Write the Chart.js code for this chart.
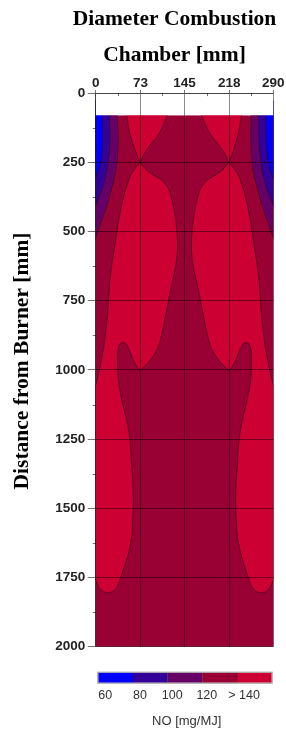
<!DOCTYPE html>
<html>
<head>
<meta charset="utf-8">
<script src="https://cdn.jsdelivr.net/npm/chart.js@4.4.0/dist/chart.umd.min.js"></script>
<style>
html,body{margin:0;padding:0;background:#fff;overflow:hidden}
#c{display:block}
</style>
</head>
<body>
<canvas id="c" width="286" height="731" style="width:286px;height:731px"></canvas>
<script>
// ---------- data ----------
const titleLines = ['Diameter Combustion', 'Chamber [mm]'];
const yTitle = 'Distance from Burner [mm]';
const legendTitle = 'NO [mg/MJ]';

const xTickValues = [0, 73, 145, 218, 290];
const yTickValues = [0, 250, 500, 750, 1000, 1250, 1500, 1750, 2000];
const xMinorTicks = [36.5, 109, 181.5, 254];
const yMinorTicks = [125, 375, 625, 875, 1125, 1375, 1625, 1875];

const levelLabels = ['60', '80', '100', '120', '> 140'];
const levelColors = ['#0000ff', '#330099', '#660066', '#990033', '#cc0033'];

// region with no measurement (above 80 mm)
const noDataBand = [[-10, -10], [300, -10], [300, 80], [-10, 80]];
// 120-140 level covers the measured field
const level120Field = [[-10, 80], [300, 80], [300, 2020], [-10, 2020]];

// > 140 regions
const level140TopLeft = [[47.7, 40], [124, 40], [117, 80], [110.4, 115], [102.2, 151], [88.7, 188], [77.8, 224], [73, 250], [69.6, 236], [61.4, 187], [54.9, 139], [50.6, 80], [47.7, 40]];
const level140TopRight = [[241, 40], [166, 40], [173, 80], [179.6, 115], [187.8, 151], [201.3, 188], [212.2, 224], [217, 250], [220.4, 236], [227.5, 187], [233.5, 139], [238, 80], [241, 40]];
const level140LowerLeft = [[73, 250], [64.2, 272], [56, 302], [47.8, 356], [42.5, 404], [37, 465], [32, 540], [27, 610], [23, 680], [19.6, 796], [13.2, 916], [5.9, 1000], [0, 1054], [-8, 1110], [-10, 1200], [-10, 1700], [-8, 1740], [0, 1759], [4.2, 1783], [12.4, 1801], [22.2, 1805], [31.5, 1795], [38.5, 1765], [45.1, 1723], [53.2, 1663], [58.8, 1603], [60.4, 1542], [61.4, 1482], [60.5, 1400], [58.8, 1350], [56, 1253], [50.6, 1181], [42.5, 1109], [36.9, 1036], [35.9, 976], [35.9, 940], [38.5, 910], [44.1, 902], [49.5, 906], [54.9, 928], [61.4, 964], [68, 991], [73, 1000], [80.5, 986], [91.4, 958], [102.2, 916], [109.4, 856], [114.8, 796], [120.2, 735], [124.3, 690], [129.5, 639], [133.3, 579], [133.3, 519], [130.6, 458], [125.7, 398], [118.6, 344], [107.8, 314], [94.1, 296], [80.5, 272], [73, 250]];
const level140LowerRight = [[217, 250], [225.8, 272], [234, 302], [242.2, 356], [247.5, 404], [253, 465], [258, 540], [263, 610], [267, 680], [270.4, 796], [276.8, 916], [284.1, 1000], [290, 1054], [298, 1110], [300, 1200], [300, 1700], [298, 1740], [290, 1759], [285.8, 1783], [277.6, 1801], [267.8, 1805], [258.5, 1795], [251.5, 1765], [244.9, 1723], [236.8, 1663], [231.2, 1603], [229.6, 1542], [228.6, 1482], [229.5, 1400], [231.2, 1350], [234, 1253], [239.4, 1181], [247.5, 1109], [253.1, 1036], [254.1, 976], [254.1, 940], [251.5, 910], [245.9, 902], [240.5, 906], [235.1, 928], [228.6, 964], [222, 991], [217, 1000], [209.5, 986], [198.6, 958], [187.8, 916], [180.6, 856], [175.2, 796], [169.8, 735], [165.7, 690], [160.5, 639], [156.7, 579], [156.7, 519], [159.4, 458], [164.3, 398], [171.4, 344], [182.2, 314], [195.9, 296], [209.5, 272], [217, 250]];

// 100-120 regions
const level100Left = [[-10, 30], [35, 30], [35.3, 80], [36.9, 163], [35.3, 236], [31.5, 296], [24.5, 356], [15.2, 428], [7, 476], [0, 522], [-5, 550], [-10, 560]];
const level100Right = [[300, 30], [254, 30], [254, 80], [253.1, 163], [254.7, 236], [258.5, 296], [265.5, 356], [274.8, 428], [283, 476], [290, 522], [295, 550], [300, 560]];
// 80-100 regions
const level80Left = [[-10, 30], [22, 30], [22.2, 80], [23.4, 163], [21.7, 224], [17.9, 284], [12.4, 332], [5.9, 374], [0, 404], [-6, 430], [-10, 435]];
const level80Right = [[300, 30], [266.5, 30], [266.5, 80], [266.6, 163], [268.3, 224], [272.1, 284], [277.6, 332], [284.1, 374], [290, 404], [296, 430], [300, 435]];
// 60-80 regions
const level60Left = [[-10, 30], [10.6, 30], [10.8, 80], [11.4, 163], [9.8, 224], [5.9, 272], [0.5, 302], [-6, 330], [-10, 335]];
const level60Right = [[300, 30], [278, 30], [278, 80], [278.6, 163], [280.2, 224], [284.1, 272], [289.5, 302], [296, 330], [300, 335]];

// ---------- chart ----------
const contourLine = 'rgba(45,0,20,0.75)';
function region(points, color, order, flat) {
  return {
    data: points.map(p => ({x: p[0], y: p[1]})),
    backgroundColor: color,
    borderColor: flat ? 'transparent' : contourLine,
    borderWidth: flat ? 0 : 0.8,
    fill: 'shape',
    tension: flat ? 0 : 0.3,
    pointRadius: 0,
    order: order
  };
}

const datasets = [
  region(noDataBand, '#ffffff', 0, true),
  region(level60Left, levelColors[0], 1),
  region(level60Right, levelColors[0], 1),
  region(level80Left, levelColors[1], 2),
  region(level80Right, levelColors[1], 2),
  region(level100Left, levelColors[2], 3),
  region(level100Right, levelColors[2], 3),
  region(level140TopLeft, levelColors[4], 4),
  region(level140TopRight, levelColors[4], 4),
  region(level140LowerLeft, levelColors[4], 4),
  region(level140LowerRight, levelColors[4], 4),
  region(level120Field, levelColors[3], 5, true)
];

const tickFont = {family: "Arial, 'Liberation Sans', sans-serif", weight: 'bold', size: 13.5};
const titleFont = "bold 21.5px 'Liberation Serif', 'Times New Roman', serif";

const decor = {
  id: 'decor',
  afterDraw(chart) {
    const ctx = chart.ctx;
    const xs = chart.scales.x, ys = chart.scales.y;
    const area = chart.chartArea;
    ctx.save();
    // minor ticks
    ctx.strokeStyle = 'rgba(0,0,0,0.55)';
    ctx.lineWidth = 1;
    xMinorTicks.forEach(v => {
      const px = Math.round(xs.getPixelForValue(v)) + 0.5;
      ctx.beginPath(); ctx.moveTo(px, area.top); ctx.lineTo(px, area.top + 3); ctx.stroke();
    });
    yMinorTicks.forEach(v => {
      const py = Math.round(ys.getPixelForValue(v)) + 0.5;
      ctx.beginPath(); ctx.moveTo(area.left - 3, py); ctx.lineTo(area.left, py); ctx.stroke();
    });
    // titles
    ctx.fillStyle = '#000';
    ctx.font = titleFont;
    ctx.textAlign = 'center';
    ctx.textBaseline = 'alphabetic';
    ctx.fillText(titleLines[0], 174.5, 25);
    ctx.fillText(titleLines[1], 174.5, 61);
    ctx.save();
    ctx.translate(28.3, 361);
    ctx.rotate(-Math.PI / 2);
    ctx.fillText(yTitle, 0, 0);
    ctx.restore();
    // colour bar legend
    const bx = 98.3, by = 672.7, bw = 173.4, bh = 10;
    const sw = bw / levelColors.length;
    levelColors.forEach((c, i) => {
      ctx.fillStyle = c;
      ctx.fillRect(bx + i * sw, by, sw, bh);
    });
    ctx.strokeStyle = 'rgba(0,0,0,0.25)';
    for (let i = 1; i < levelColors.length; i++) {
      ctx.beginPath(); ctx.moveTo(bx + i * sw, by); ctx.lineTo(bx + i * sw, by + bh); ctx.stroke();
    }
    ctx.strokeStyle = '#9a9a9a';
    ctx.strokeRect(bx - 0.5, by - 0.5, bw + 1, bh + 1);
    ctx.fillStyle = '#333';
    ctx.font = "12.5px Arial, 'Liberation Sans', sans-serif";
    ctx.textBaseline = 'middle';
    levelLabels.forEach((t, i) => {
      // label sits just right of its colour step start
      const shift = (i === 2 || i === 3) ? 4.5 : 7;
      ctx.fillText(t, bx + i * sw + shift, 696);
    });
    ctx.font = "13px Arial, 'Liberation Sans', sans-serif";
    ctx.fillText(legendTitle, 186.7, 721);
    ctx.restore();
  }
};

new Chart(document.getElementById('c'), {
  type: 'line',
  data: {datasets},
  options: {
    responsive: false,
    animation: false,
    devicePixelRatio: 1,
    events: [],
    layout: {padding: {left: 0, top: 0, right: 12.7, bottom: 84.3}},
    plugins: {legend: {display: false}, tooltip: {enabled: false}, title: {display: false}},
    scales: {
      x: {
        type: 'linear', position: 'top', min: 0, max: 290,
        afterFit(s) { s.height = 93.1; },
        afterBuildTicks(s) { s.ticks = xTickValues.map(v => ({value: v})); },
        ticks: {font: tickFont, color: '#222', padding: -1.5, maxRotation: 0, autoSkip: false, z: 2,
                callback: v => String(v)},
        grid: {color: 'rgba(0,0,0,0.45)', lineWidth: 1, tickLength: 3, tickColor: 'rgba(0,0,0,0.55)', z: 1},
        border: {color: 'rgba(0,0,0,0.5)', z: 2}
      },
      y: {
        type: 'linear', reverse: true, min: 0, max: 2000,
        afterFit(s) { s.width = 95.7; },
        afterBuildTicks(s) { s.ticks = yTickValues.map(v => ({value: v})); },
        ticks: {font: tickFont, color: '#222', padding: 2.5, autoSkip: false, z: 2,
                callback: v => String(v)},
        grid: {color: 'rgba(0,0,0,0.45)', lineWidth: 1, tickLength: 8, tickColor: 'rgba(0,0,0,0.55)', z: 1},
        border: {color: 'rgba(0,0,0,0.5)', z: 2}
      }
    }
  },
  plugins: [decor]
});
</script>
</body>
</html>
